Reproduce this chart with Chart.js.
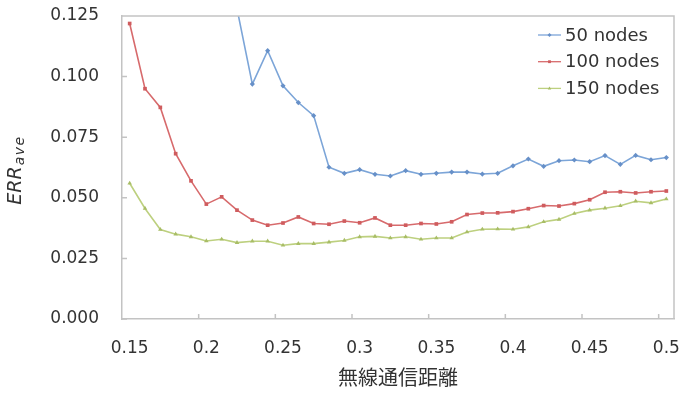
<!DOCTYPE html>
<html><head><meta charset="utf-8">
<script src="https://cdn.jsdelivr.net/npm/chart.js@4.4.0/dist/chart.umd.min.js"></script>
<style>html,body{margin:0;padding:0;background:#fff;}#wrap{width:683px;height:394px;}</style>
</head><body><div id="wrap"><canvas id="c" width="683" height="394"></canvas></div>
<script>
// ---- data ----
const categories = [0.15,0.16,0.17,0.18,0.19,0.20,0.21,0.22,0.23,0.24,0.25,0.26,0.27,0.28,0.29,0.30,0.31,0.32,0.33,0.34,0.35,0.36,0.37,0.38,0.39,0.40,0.41,0.42,0.43,0.44,0.45,0.46,0.47,0.48,0.49,0.50];
const xTickLabels = ['0.15','0.2','0.25','0.3','0.35','0.4','0.45','0.5'];
const yTickLabels = ['0.000','0.025','0.050','0.075','0.100','0.125'];
const seriesNames = ['50 nodes','100 nodes','150 nodes'];
// values above the plotted range (0.15–0.21 for 50 nodes) are not readable in the picture
const series50 = [null,null,null,null,null,null,null,0.128,0.0969,0.1107,0.0962,0.0893,0.0839,0.0626,0.0601,0.0616,0.0597,0.0590,0.0612,0.0597,0.0601,0.0606,0.0606,0.0598,0.0601,0.0632,0.0660,0.0630,0.0653,0.0656,0.0649,0.0674,0.0638,0.0675,0.0657,0.0666];
const series100 = [0.1219,0.0950,0.0873,0.0682,0.0570,0.0474,0.0504,0.0449,0.0408,0.0387,0.0396,0.0421,0.0394,0.0391,0.0404,0.0397,0.0417,0.0387,0.0387,0.0394,0.0392,0.0401,0.0431,0.0437,0.0438,0.0443,0.0455,0.0468,0.0466,0.0476,0.0492,0.0523,0.0525,0.0520,0.0525,0.0528];
const series150 = [0.0560,0.0456,0.0369,0.0350,0.0339,0.0322,0.0329,0.0315,0.0321,0.0321,0.0304,0.0311,0.0311,0.0317,0.0324,0.0339,0.0341,0.0334,0.0339,0.0329,0.0334,0.0334,0.0359,0.0370,0.0371,0.0370,0.0380,0.0401,0.0411,0.0435,0.0449,0.0457,0.0467,0.0486,0.0479,0.0495];

const FONT = "'DejaVu Sans', 'Noto Sans CJK JP', sans-serif";
const AXIS_COLOR = '#c3c3c3';
const TEXT_COLOR = '#333333';

const framePlugin = {
  id: 'frame',
  afterDatasetsDraw(chart) {
    const {ctx, chartArea: a, scales: {x, y}} = chart;
    ctx.save();
    ctx.strokeStyle = AXIS_COLOR;
    ctx.lineWidth = 1.5;
    ctx.beginPath();
    ctx.moveTo(a.left, a.top); ctx.lineTo(a.right, a.top); ctx.lineTo(a.right, a.bottom);
    y.ticks.forEach(t => { const py = y.getPixelForValue(t.value); ctx.moveTo(a.left, py); ctx.lineTo(a.left + 5, py); });
    categories.forEach((c, i) => {
      if (i > 0 && xTickLabels.includes(String(c))) {
        const px = (x.getPixelForValue(i - 1) + x.getPixelForValue(i)) / 2;
        ctx.moveTo(px, a.bottom); ctx.lineTo(px, a.bottom - 5);
      }
    });
    ctx.stroke();
    ctx.restore();
  }
};

const legendPlugin = {
  id: 'innerLegend',
  afterDatasetsDraw(chart) {
    const {ctx, chartArea: a} = chart;
    ctx.save();
    chart.data.datasets.forEach((ds, i) => {
      const yy = a.top + 19 + i * 26.7;
      const x0 = a.right - 136;
      ctx.strokeStyle = ds.borderColor; ctx.lineWidth = 1.3;
      ctx.beginPath(); ctx.moveTo(x0, yy); ctx.lineTo(x0 + 23, yy); ctx.stroke();
      ctx.fillStyle = ds.pointBackgroundColor;
      Chart.helpers.drawPoint(ctx, {pointStyle: ds.pointStyle, radius: 2, borderWidth: 0, rotation: 0}, x0 + 11.5, yy);
      ctx.fillStyle = TEXT_COLOR;
      ctx.font = "18px " + FONT;
      ctx.textBaseline = 'middle'; ctx.textAlign = 'left';
      ctx.fillText(ds.label, x0 + 27, yy + 1);
    });
    ctx.restore();
  }
};

const yTitlePlugin = {
  id: 'yTitle',
  afterDraw(chart) {
    const {ctx, chartArea: a} = chart;
    ctx.save();
    const main = 'ERR', sub = 'ave';
    ctx.font = "italic 19px " + FONT;
    const wMain = ctx.measureText(main).width;
    ctx.font = "italic 14px " + FONT;
    if ('letterSpacing' in ctx) ctx.letterSpacing = '1.5px';
    const wSub = ctx.measureText(sub).width;
    const cy = (a.top + a.bottom) / 2 + 3;
    ctx.translate(21, cy);
    ctx.rotate(-Math.PI / 2);
    ctx.fillStyle = TEXT_COLOR;
    ctx.textBaseline = 'alphabetic'; ctx.textAlign = 'left';
    const start = -(wMain + wSub) / 2;
    ctx.fillText(sub, start + wMain + 1, 3);
    if ('letterSpacing' in ctx) ctx.letterSpacing = '0px';
    ctx.font = "italic 19px " + FONT;
    ctx.fillText(main, start, 0);
    ctx.restore();
  }
};

const colors = {
  line: ['#7ca5d8', '#d76a6c', '#bdd07f'],
  point: ['#6790c8', '#cf5c5e', '#a8bd66']
};
const styles = ['rectRot', 'rect', 'triangle'];
const seriesData = [series50, series100, series150];

new Chart(document.getElementById('c'), {
  type: 'line',
  data: {
    labels: categories.map(String),
    datasets: seriesData.map((d, i) => ({
      label: seriesNames[i],
      data: d,
      borderColor: colors.line[i],
      backgroundColor: colors.point[i],
      pointBackgroundColor: colors.point[i],
      pointBorderWidth: 0,
      pointStyle: styles[i],
      pointRadius: 2.6,
      borderWidth: 1.6,
      tension: 0,
      clip: 0,
      spanGaps: false
    }))
  },
  options: {
    responsive: false,
    animation: false,
    devicePixelRatio: 1,
    layout: {padding: {top: 16, right: 9, left: 0, bottom: 0}},
    plugins: {legend: {display: false}, tooltip: {enabled: false}},
    scales: {
      x: {
        type: 'category',
        offset: true,
        grid: {display: false, drawTicks: false},
        border: {color: AXIS_COLOR, width: 1.5},
        ticks: {
          autoSkip: false, maxRotation: 0, minRotation: 0, padding: 19,
          color: TEXT_COLOR, font: {family: FONT, size: 17},
          callback: (v, i) => { const s = String(categories[i]); return xTickLabels.includes(s) ? s : ''; }
        },
        title: {display: true, text: '無線通信距離', color: TEXT_COLOR,
          font: {family: "'Noto Sans CJK JP', sans-serif", size: 20}, padding: {top: 2, bottom: 5}},
        afterFit(s) { s.height = 75; s.paddingLeft = 0; s.paddingRight = 0; }
      },
      y: {
        min: 0, max: 0.125,
        grid: {display: false, drawTicks: false},
        border: {color: AXIS_COLOR, width: 1.5},
        ticks: {
          stepSize: 0.025, padding: 23, color: TEXT_COLOR, font: {family: FONT, size: 17},
          callback: v => { const s = v.toFixed(3); return yTickLabels.includes(s) ? s : ''; }
        },
        afterFit(s) { s.width = 122; s.paddingTop = 0; s.paddingBottom = 0; }
      }
    }
  },
  plugins: [framePlugin, legendPlugin, yTitlePlugin]
});
</script>
</body></html>
